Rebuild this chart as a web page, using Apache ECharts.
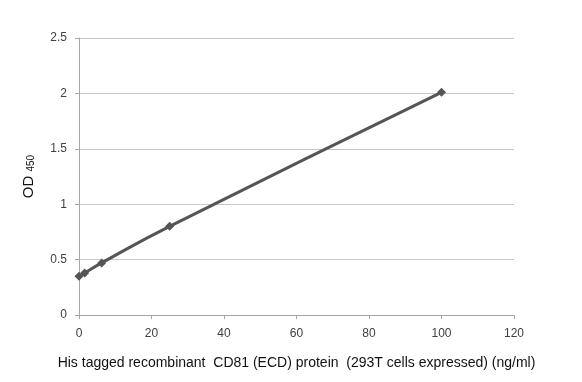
<!DOCTYPE html>
<html><head><meta charset="utf-8">
<script src="https://cdn.jsdelivr.net/npm/echarts@6/dist/echarts.min.js"></script>
<style>html,body{margin:0;padding:0;background:#fff}#c{width:582px;height:382px}</style>
</head><body><div id="c"></div>
<script>
var xValues = [0, 1.5625, 6.25, 25, 100];
var odValues = [0.35, 0.38, 0.47, 0.80, 2.01];
var xTitle = 'His tagged recombinant  CD81 (ECD) protein  (293T cells expressed) (ng/ml)';
var yTitle = 'OD';
var ySub = '450';

var chart = echarts.init(document.getElementById('c'), null, {renderer: 'canvas'});
var data = xValues.map(function (x, i) { return [x, odValues[i]]; });
var font = 'Liberation Sans, Arial, sans-serif';
chart.setOption({
  animation: false,
  backgroundColor: '#fff',
  grid: {left: 79, right: 68, top: 38, bottom: 67, containLabel: false},
  xAxis: {
    type: 'value', min: 0, max: 120, interval: 20,
    name: xTitle, nameLocation: 'middle', nameGap: 41,
    nameTextStyle: {fontSize: 14, color: '#111', fontFamily: font},
    axisLine: {show: true, lineStyle: {color: '#a6a6a6', width: 1}},
    axisTick: {show: true, length: 4, lineStyle: {color: '#a6a6a6'}},
    axisLabel: {fontSize: 12, color: '#404040', fontFamily: font, margin: 13},
    splitLine: {show: false}
  },
  yAxis: {
    type: 'value', min: 0, max: 2.5, interval: 0.5,
    name: '{m|' + yTitle + ' }{s|' + ySub + '}', nameLocation: 'middle', nameGap: 43,
    nameRotate: 90,
    nameTextStyle: {
      rich: {
        m: {fontSize: 15, color: '#111', fontFamily: font},
        s: {fontSize: 10, color: '#111', fontFamily: font, verticalAlign: 'bottom'}
      }
    },
    axisLine: {show: true, lineStyle: {color: '#a6a6a6', width: 1}},
    axisTick: {show: true, length: 4, lineStyle: {color: '#a6a6a6'}},
    axisLabel: {fontSize: 12, color: '#404040', fontFamily: font, margin: 12,
      formatter: function (v) { return String(v); }},
    splitLine: {show: true, lineStyle: {color: '#c8c8c8', width: 1}}
  },
  series: [{
    type: 'line', data: data, smooth: true,
    symbol: 'diamond', symbolSize: 9,
    lineStyle: {color: '#555555', width: 3},
    itemStyle: {color: '#555555'}
  }]
});
</script></body></html>
